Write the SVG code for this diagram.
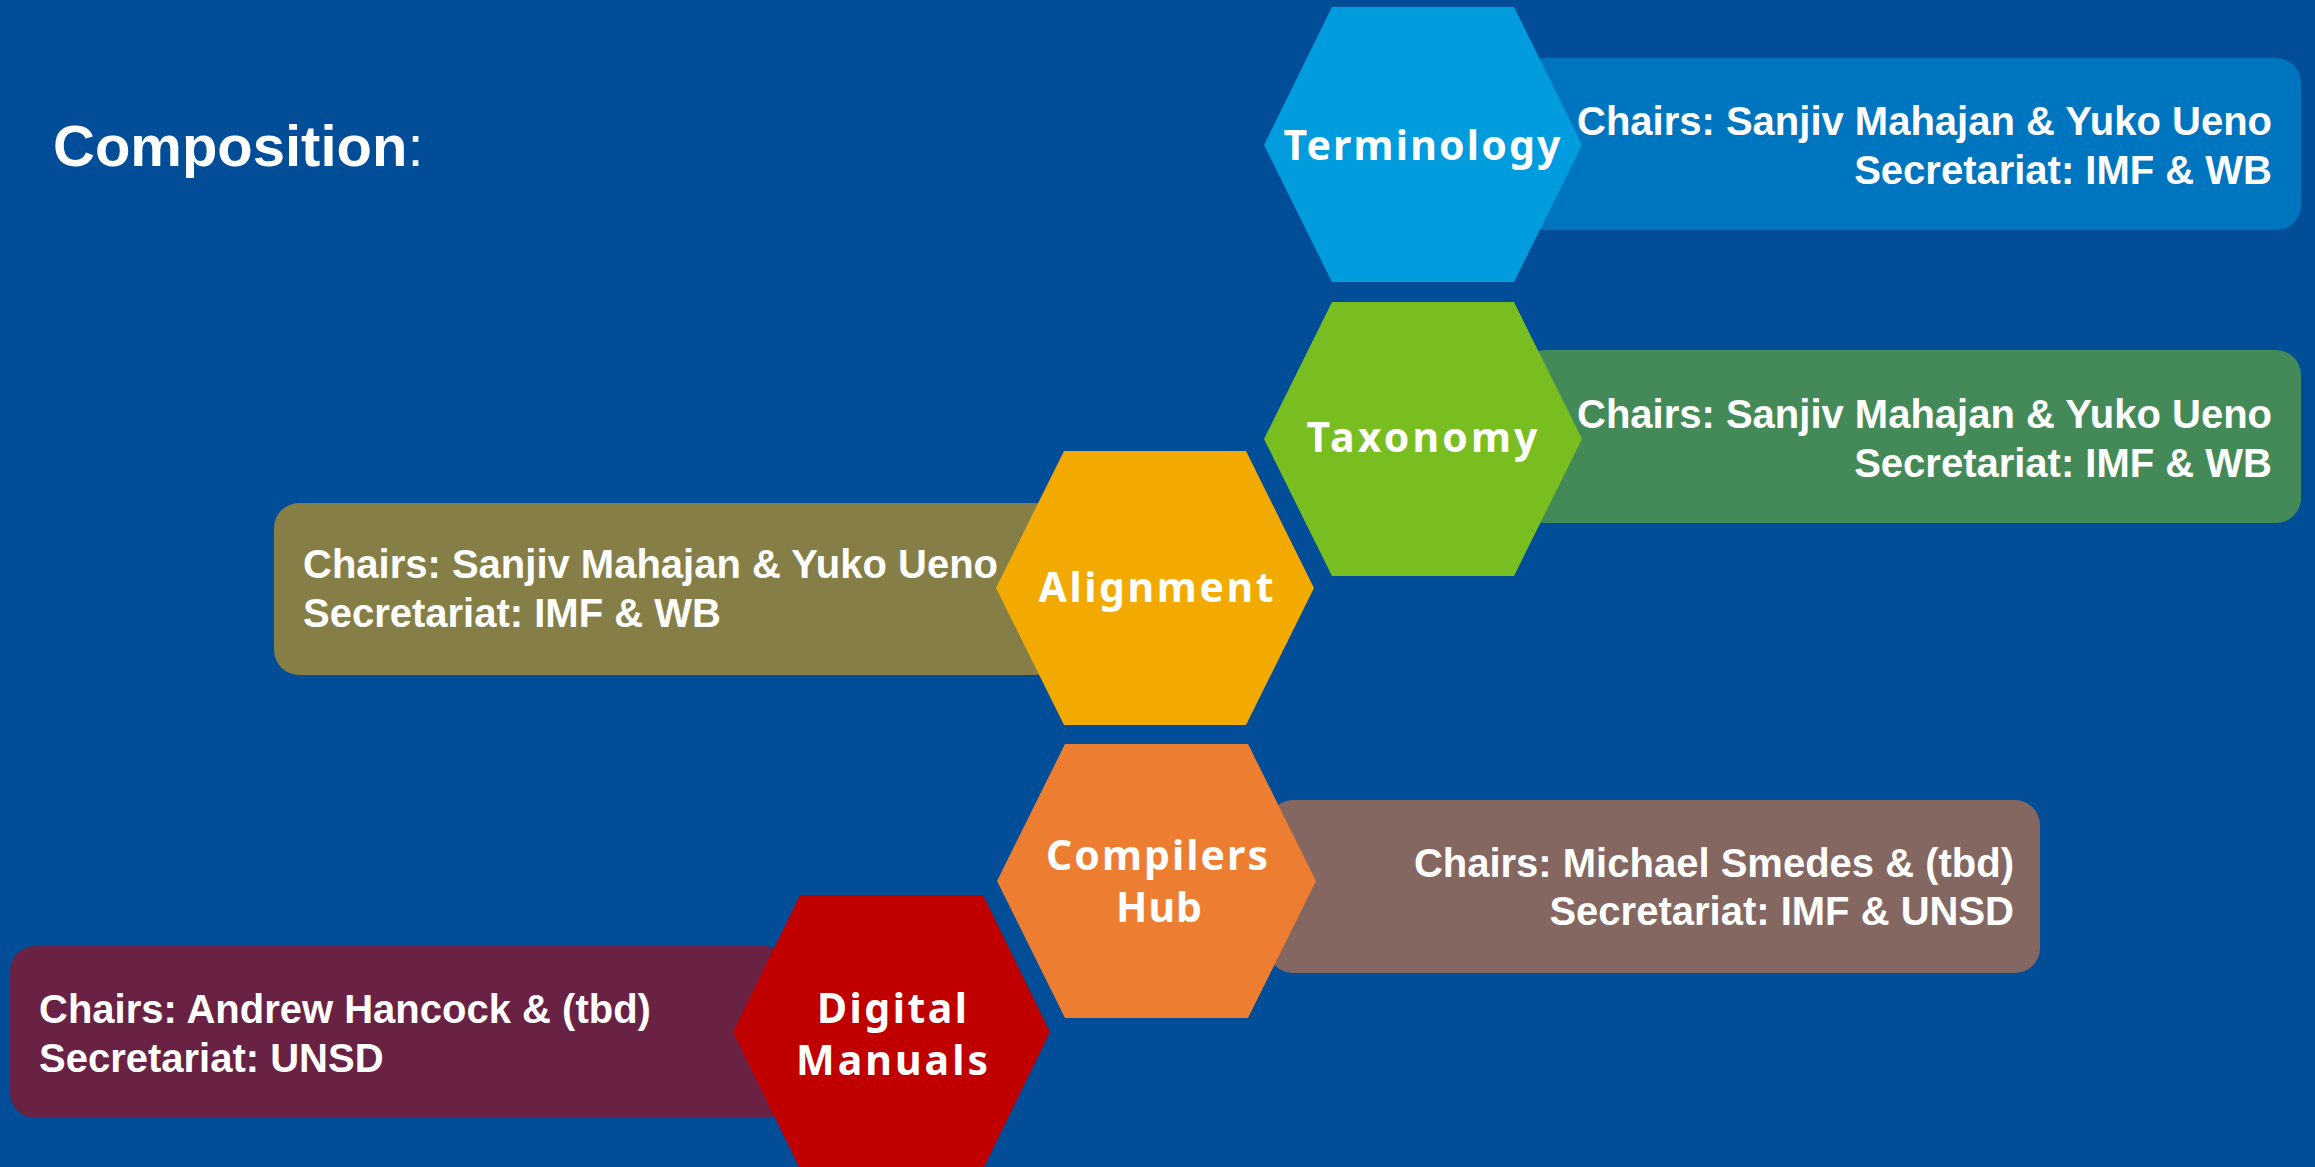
<svg xmlns="http://www.w3.org/2000/svg" width="2315" height="1167" viewBox="0 0 2315 1167">
<style>
.bg{fill:#014D97}
.info{font-family:"Liberation Sans",Arial,sans-serif;font-weight:bold;font-size:40px;fill:#FFFFFF}
.hexlabel{font-family:"Noto Sans","DejaVu Sans",sans-serif;font-weight:bold;font-size:41px;fill:#FFFFFF;text-anchor:middle}
.title{font-family:"Liberation Sans",Arial,sans-serif;font-size:58px;fill:#FFFFFF}
</style>
<rect class="bg" x="0" y="0" width="2315" height="1167"/>
<text class="title" x="53" y="166"><tspan font-weight="bold">Composition</tspan>:</text>
<g id="connectors"/>
<g id="terminology">
<rect x="1520" y="58" width="781" height="172" rx="25" fill="#0075BF"/>
<polygon points="1264,145 1332,7 1514,7 1582,145 1514,282 1332,282" fill="#009CDE"/>
<text class="hexlabel" x="1422" y="160" textLength="277" lengthAdjust="spacing">Terminology</text>
<text class="info" text-anchor="end" x="2272" y="135">Chairs: Sanjiv Mahajan &amp; Yuko Ueno</text>
<text class="info" text-anchor="end" x="2272" y="184">Secretariat: IMF &amp; WB</text>
</g>
<g id="taxonomy">
<rect x="1520" y="350" width="781" height="173" rx="25" fill="#448A59"/>
<polygon points="1264,439 1332,302 1514,302 1582,439 1514,576 1332,576" fill="#78BE20"/>
<text class="hexlabel" x="1422" y="452" textLength="231" lengthAdjust="spacing">Taxonomy</text>
<text class="info" text-anchor="end" x="2272" y="428">Chairs: Sanjiv Mahajan &amp; Yuko Ueno</text>
<text class="info" text-anchor="end" x="2272" y="477">Secretariat: IMF &amp; WB</text>
</g>
<g id="alignment">
<rect x="274" y="503" width="786" height="172" rx="25" fill="#857F47"/>
<polygon points="996,588 1064,451 1246,451 1314,588 1246,725 1064,725" fill="#F2A900"/>
<text class="hexlabel" x="1156" y="602" textLength="235" lengthAdjust="spacing">Alignment</text>
<text class="info" x="303" y="578">Chairs: Sanjiv Mahajan &amp; Yuko Ueno</text>
<text class="info" x="303" y="627">Secretariat: IMF &amp; WB</text>
</g>
<g id="compilers-hub">
<rect x="1268" y="800" width="772" height="173" rx="25" fill="#836760"/>
<polygon points="997,881 1065,744 1248,744 1316,881 1248,1018 1065,1018" fill="#ED7D31"/>
<text class="hexlabel" x="1157" y="870" textLength="222" lengthAdjust="spacing">Compilers</text>
<text class="hexlabel" x="1159" y="922" textLength="86" lengthAdjust="spacing">Hub</text>
<text class="info" text-anchor="end" x="2014" y="877">Chairs: Michael Smedes &amp; (tbd)</text>
<text class="info" text-anchor="end" x="2014" y="925">Secretariat: IMF &amp; UNSD</text>
</g>
<g id="digital-manuals">
<rect x="10" y="946" width="780" height="172" rx="25" fill="#692244"/>
<polygon points="733,1032 800,895 983,895 1050,1032 983,1169 800,1169" fill="#C00000"/>
<text class="hexlabel" x="892" y="1023" textLength="150" lengthAdjust="spacing">Digital</text>
<text class="hexlabel" x="892" y="1075" textLength="192" lengthAdjust="spacing">Manuals</text>
<text class="info" x="39" y="1023">Chairs: Andrew Hancock &amp; (tbd)</text>
<text class="info" x="39" y="1072">Secretariat: UNSD</text>
</g>
</svg>
